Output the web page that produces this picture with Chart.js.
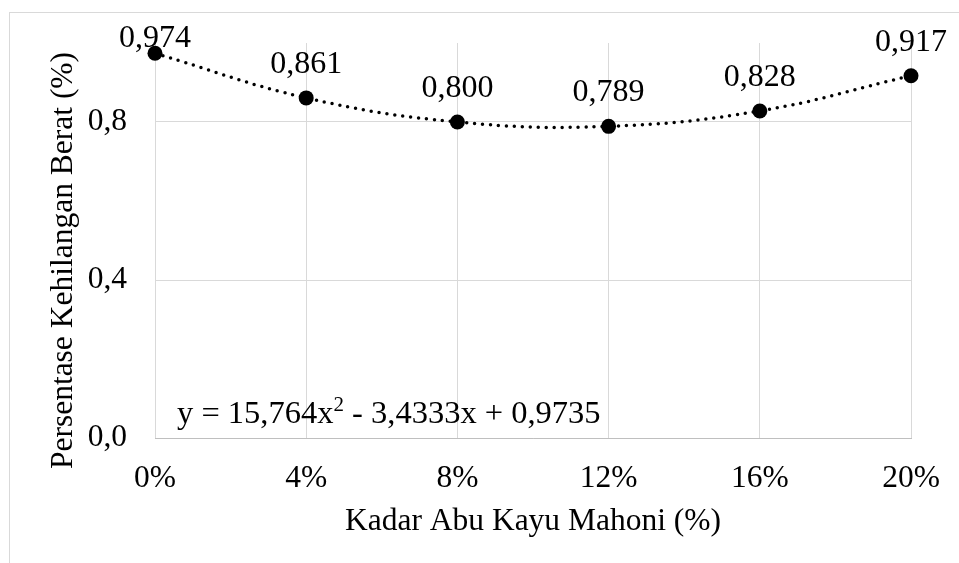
<!DOCTYPE html>
<html>
<head>
<meta charset="utf-8">
<script src="https://cdn.jsdelivr.net/npm/chart.js@4.4.0/dist/chart.umd.min.js"></script>
<style>
  html, body { margin: 0; padding: 0; background: #fff; }
  #wrap { position: relative; width: 959px; height: 563px; overflow: hidden; }
  #frame { position: absolute; left: 9px; top: 12px; width: 1000px; height: 600px;
           border-top: 1px solid #d9d9d9; border-left: 1px solid #d9d9d9; box-sizing: border-box; }
  canvas { position: absolute; left: 0; top: 0; }
</style>
</head>
<body>
<div id="wrap">
  <div id="frame"></div>
  <canvas id="c" width="959" height="563"></canvas>
</div>
<script>
// ---- data ----
const categories = ['0%', '4%', '8%', '12%', '16%', '20%'];
const weightLoss = [0.974, 0.861, 0.800, 0.789, 0.828, 0.917];
const yTicks = [0.0, 0.4, 0.8];
const yMin = 0.0;
const yMax = 1.0;
const xTitle = 'Kadar Abu Kayu Mahoni (%)';
const yTitle = 'Persentase Kehilangan Berat (%)';
const eqPart1 = 'y = 15,764x';
const eqSup = '2';
const eqPart2 = ' - 3,4333x + 0,9735';

const FONT = '"Liberation Serif", "Times New Roman", serif';
const fmt = (v, d) => v.toFixed(d).replace('.', ',');

const labelPlugin = {
  id: 'pointLabels',
  afterDatasetsDraw(chart) {
    const ctx = chart.ctx;
    const meta = chart.getDatasetMeta(0);
    ctx.save();
    ctx.font = '32px ' + FONT;
    ctx.fillStyle = '#000';
    ctx.textAlign = 'center';
    ctx.textBaseline = 'alphabetic';
    meta.data.forEach((pt, i) => {
      const v = chart.data.datasets[0].data[i];
      let base = pt.y - 25;
      const minBase = 47;
      if (base < minBase) base = minBase;
      ctx.fillText(fmt(v, 3), pt.x, base);
    });
    ctx.restore();
  }
};

const equationPlugin = {
  id: 'equation',
  afterDatasetsDraw(chart) {
    const ctx = chart.ctx;
    const a = chart.chartArea;
    ctx.save();
    ctx.fillStyle = '#000';
    ctx.textAlign = 'left';
    ctx.textBaseline = 'alphabetic';
    let x = a.left + 22;
    const y = a.bottom - 15;
    ctx.font = '32.5px ' + FONT;
    ctx.fillText(eqPart1, x, y);
    x += ctx.measureText(eqPart1).width;
    ctx.font = '21px ' + FONT;
    ctx.fillText(eqSup, x, y - 12);
    x += ctx.measureText(eqSup).width;
    ctx.font = '32.5px ' + FONT;
    ctx.fillText(eqPart2, x, y);
    ctx.restore();
  }
};

const yTitlePlugin = {
  id: 'yTitle',
  afterDraw(chart) {
    const ctx = chart.ctx;
    const a = chart.chartArea;
    ctx.save();
    ctx.fillStyle = '#000';
    ctx.font = '31.5px ' + FONT;
    ctx.textAlign = 'center';
    ctx.textBaseline = 'middle';
    ctx.translate(64, (a.top + a.bottom) / 2 + 20);
    ctx.rotate(-Math.PI / 2);
    ctx.fillText(yTitle, 0, 0);
    ctx.restore();
  }
};

new Chart(document.getElementById('c'), {
  type: 'line',
  data: {
    labels: categories,
    datasets: [{
      data: weightLoss,
      borderColor: '#000',
      backgroundColor: '#000',
      borderWidth: 3.5,
      borderDash: [0, 8],
      borderCapStyle: 'round',
      tension: 0.4,
      pointRadius: 7.5,
      pointHoverRadius: 7.5,
      pointBackgroundColor: '#000',
      pointBorderColor: '#000',
      pointBorderWidth: 0,
      clip: false,
      fill: false
    }]
  },
  options: {
    responsive: false,
    animation: false,
    events: [],
    layout: { padding: { top: 43, right: 48, left: 0, bottom: 0 } },
    plugins: { legend: { display: false }, tooltip: { enabled: false } },
    scales: {
      x: {
        type: 'category',
        offset: false,
        afterFit(s) { s.height = 125; s.paddingLeft = 0; s.paddingRight = 0; s.paddingTop = 0; s.paddingBottom = 0; },
        grid: { color: '#d9d9d9', lineWidth: 1, drawTicks: false },
        border: { display: true, color: '#bfbfbf', width: 1 },
        ticks: { color: '#000', font: { family: FONT, size: 31.5 }, padding: 22, maxRotation: 0, autoSkip: false },
        title: { display: true, text: xTitle, color: '#000', font: { family: FONT, size: 31.5, lineHeight: 1 }, padding: { top: 0, bottom: 26 } }
      },
      y: {
        min: yMin,
        max: yMax,
        afterFit(s) { s.width = 155; s.paddingTop = 0; s.paddingBottom = 0; s.paddingLeft = 0; s.paddingRight = 0; },
        afterBuildTicks(s) { s.ticks = yTicks.map(v => ({ value: v })); },
        grid: { color: '#d9d9d9', lineWidth: 1, drawTicks: false },
        border: { display: false },
        ticks: { color: '#000', font: { family: FONT, size: 31.5 }, padding: 28, callback: v => fmt(v, 1) },
        title: { display: false, text: yTitle }
      }
    }
  },
  plugins: [labelPlugin, equationPlugin, yTitlePlugin]
});
</script>
</body>
</html>
